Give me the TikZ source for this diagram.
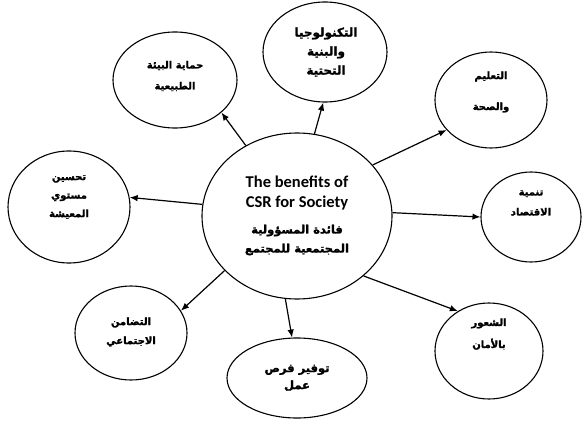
\documentclass[tikz,border=0pt]{standalone}
\usepackage{fontspec}
\setmainfont{Carlito}
\newfontfamily\arabicfont[Script=Arabic, BoldFeatures={FakeBold=1.6}]{DejaVu Sans}
\TeXXeTstate=1
\usetikzlibrary{shapes.geometric,arrows.meta}
\tikzset{
  bubble/.style={draw=black, line width=1.1pt, ellipse, inner sep=0pt},
  artext/.style={align=center, inner sep=0pt, font=\arabicfont\bfseries\fontsize{10}{#1}\selectfont},
  conn/.style={line width=1.2pt, -{Latex[length=8pt,width=6.5pt]}}
}
\begin{document}
\begin{tikzpicture}[x=1pt,y=-1pt]
\useasboundingbox (0,0) rectangle (584,428);
% bubbles
\node[bubble, minimum width=190pt, minimum height=166pt] (c) at (297,216) {};
\node[bubble, minimum width=124pt, minimum height=96pt] (env) at (175,80) {};
\node[bubble, minimum width=124pt, minimum height=100pt] (tech) at (325,52) {};
\node[bubble, minimum width=112pt, minimum height=96pt] (edu) at (491,100) {};
\node[bubble, minimum width=122pt, minimum height=112pt] (liv) at (69,207) {};
\node[bubble, minimum width=100pt, minimum height=90pt] (eco) at (531,217) {};
\node[bubble, minimum width=112pt, minimum height=94pt] (sol) at (131,333) {};
\node[bubble, minimum width=140pt, minimum height=80pt] (job) at (297,378) {};
\node[bubble, minimum width=108pt, minimum height=96pt] (sec) at (489,351) {};
% texts
\node[align=center, inner sep=0pt, font=\bfseries\fontsize{16.5}{20}\selectfont] (cen) at (297,193) {The benefits of\\CSR for Society};
\node[align=center, inner sep=0pt, font=\arabicfont\bfseries\fontsize{11.5}{19}\selectfont] (car) at (297,240) {\beginR فائدة المسؤولية\endR\\\beginR المجتمعية للمجتمع\endR};
\node[artext=21] (tenv) at (175,76) {\beginR حماية البيئة\endR\\\beginR الطبيعية\endR};
\node[align=center, inner sep=0pt, font=\arabicfont\bfseries\fontsize{12}{19}\selectfont] (ttech) at (326,52) {\beginR التكنولوجيا\endR\\\beginR والبنية\endR\\\beginR التحتية\endR};
\node[artext=31] (tedu) at (491,92) {\beginR التعليم\endR\\\beginR والصحة\endR};
\node[artext=18.5] (tliv) at (69,197) {\beginR تحسين\endR\\\beginR مستوي\endR\\\beginR المعيشة\endR};
\node[artext=20] (teco) at (531,203) {\beginR تنمية\endR\\\beginR الاقتصاد\endR};
\node[artext=19] (tsol) at (131,332) {\beginR التضامن\endR\\\beginR الاجتماعي\endR};
\node[align=center, inner sep=0pt, font=\arabicfont\bfseries\fontsize{11.5}{17}\selectfont] (tjob) at (297,378) {\beginR توفير فرص\endR\\\beginR عمل\endR};
\node[artext=22] (tsec) at (489,334) {\beginR الشعور\endR\\\beginR بالأمان\endR};
% connectors
\draw[conn] (c.126) -- (env.325);
\draw[conn] (c.78) -- (tech.268);
\draw[conn] (c.34) -- (edu.214);
\draw[conn] (c.173) -- (liv.9);
\draw[conn] (c.2) -- (eco.180);
\draw[conn] (c.217) -- (sol.24);
\draw[conn] (c.262) -- (job.97);
\draw[conn] (c.318) -- (sec.128);
\end{tikzpicture}
\end{document}
